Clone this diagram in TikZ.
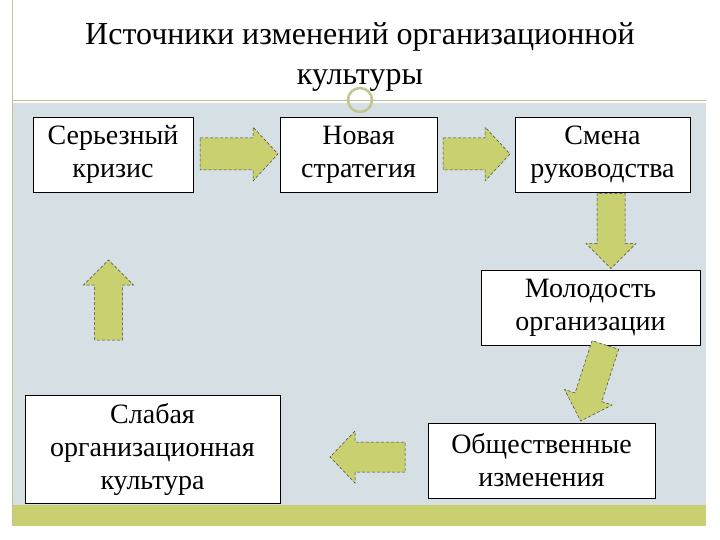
\documentclass[tikz,border=0pt]{standalone}
\usepackage{fontspec}
\setmainfont{Liberation Serif}
\definecolor{olive}{RGB}{200,208,112}
\definecolor{bgc}{RGB}{214,224,228}
\definecolor{fr}{RGB}{190,196,150}
\newcommand\blockarrow[5]{% name, center, angle, length, shaft width
\begin{scope}[shift={#2},rotate=#3]
\draw[arrsty] ({-#4/2},{-#5/2}) -- ({#4/2-25},{-#5/2}) -- ({#4/2-25},{-#5/2-11}) -- ({#4/2},0) -- ({#4/2-25},{#5/2+11}) -- ({#4/2-25},{#5/2}) -- ({-#4/2},{#5/2}) -- cycle;
\coordinate (#1) at (0,0);
\end{scope}}
\begin{document}
\begin{tikzpicture}[x=1pt,y=-1pt,
 box/.style={draw=black,fill=white,line width=0.8pt,align=center,font=\fontsize{28}{33}\selectfont,inner sep=0pt},
 arrsty/.style={draw=black!75,densely dashed,line width=0.5pt,fill=olive}]
\useasboundingbox (0,0) rectangle (720,540);
\fill[white] (0,0) rectangle (720,540);
\fill[bgc] (12,103) rectangle (706,505);
\fill[olive] (12,505) rectangle (706,526);
\draw[fr] (12,0) -- (12,526);
\draw[fr,line width=1pt] (12,101) -- (706,101);
\node (t) at (360,57) [align=center,font=\fontsize{32}{40}\selectfont] {Источники изменений организационной\\культуры};
\draw[fr!80!olive,line width=2.5pt] (360,100) circle (12);
\node[box,minimum width=160,minimum height=75] (a) at (113,154.5) {Серьезный\\кризис};
\node[box,minimum width=157,minimum height=75] (b) at (358.5,154.5) {Новая\\стратегия};
\node[box,minimum width=175,minimum height=75] (c) at (602.5,154.5) {Смена\\руководства};
\node[box,minimum width=219,minimum height=75] (d) at (590.5,307.5) {Молодость\\организации};
\node[box,minimum width=227,minimum height=75] (e) at (541.5,460.5) {Общественные\\изменения};
\node[box,minimum width=255,minimum height=108] (f) at (152.5,449) {Слабая\\организационная\\культура};
\blockarrow{a1}{(239,154)}{0}{78}{32}
\blockarrow{a2}{(476.5,154)}{0}{67}{32}
\blockarrow{a3}{(611,231)}{-90}{75}{28}
\blockarrow{a4}{(593,383)}{-108}{80}{28}
\blockarrow{a5}{(367.5,457)}{180}{75}{30}
\blockarrow{a6}{(108.5,300)}{90}{80}{28}
\end{tikzpicture}
\end{document}
